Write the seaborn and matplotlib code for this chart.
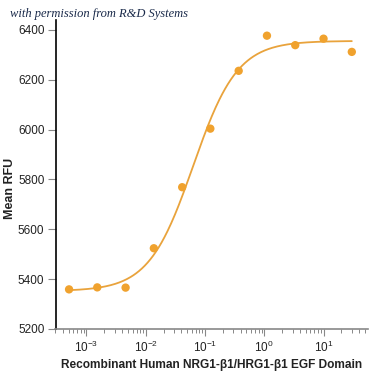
import numpy as np
import pandas as pd
import matplotlib
matplotlib.use("Agg")
import matplotlib.pyplot as plt
import seaborn as sns
from matplotlib.ticker import LogLocator, NullFormatter

# data
concentration = [0.000508, 0.00152, 0.00457, 0.0137, 0.0412, 0.123, 0.370, 1.11, 3.33, 10.0, 30.0]
mean_rfu = [5359, 5367, 5366, 5524, 5769, 6004, 6236, 6377, 6339, 6365, 6312]

# 4-parameter logistic fit parameters
fit_bottom = 5352
fit_top = 6356
fit_ec50 = 0.063
fit_hill = 1.16

y_ticks = [5200, 5400, 5600, 5800, 6000, 6200, 6400]

sns.set_style("white")
plt.rcParams['font.family'] = ['Liberation Sans', 'DejaVu Sans']
plt.rcParams['mathtext.fontset'] = 'custom'
plt.rcParams['mathtext.rm'] = 'Liberation Sans'

fig = plt.figure(figsize=(3.75, 3.75), dpi=100)
ax = fig.add_axes([0.148, 0.1227, 0.833, 0.824])

xs = np.logspace(np.log10(concentration[0]), np.log10(concentration[-1]), 300)
curve = fit_bottom + (fit_top - fit_bottom) / (1 + (fit_ec50 / xs) ** fit_hill)
curve_df = pd.DataFrame({"x": xs, "y": curve})
pts_df = pd.DataFrame({"x": concentration, "y": mean_rfu})

orange = "#F0A22E"
sns.lineplot(data=curve_df, x="x", y="y", ax=ax, color="#E9A33C", linewidth=1.3)
sns.scatterplot(data=pts_df, x="x", y="y", ax=ax, color=orange, s=36, edgecolor="none", zorder=3)

ax.set_xscale("log")
ax.set_xlim(3.0e-4, 56)
ax.set_ylim(5200, 6440)
ax.set_yticks(y_ticks)
ax.xaxis.set_major_locator(LogLocator(base=10, numticks=10))
ax.xaxis.set_minor_locator(LogLocator(base=10, subs=np.arange(2, 10), numticks=20))
ax.xaxis.set_minor_formatter(NullFormatter())

for s in ["top", "right"]:
    ax.spines[s].set_visible(False)
ax.spines["left"].set_color("black")
ax.spines["left"].set_linewidth(1.2)
ax.spines["bottom"].set_color("#888888")
ax.spines["bottom"].set_linewidth(1.2)

ax.tick_params(axis="y", which="major", direction="out", length=6, width=0.8,
               color="#888888", labelsize=8.5, left=True, pad=2)
ax.tick_params(axis="x", which="major", direction="out", length=5, width=0.8,
               color="#888888", labelsize=8.5, bottom=True, pad=3)
ax.tick_params(axis="x", which="minor", direction="out", length=3, width=0.7,
               color="#888888", bottom=True)
for lab in ax.get_xticklabels() + ax.get_yticklabels():
    lab.set_color("#222222")

ax.set_xlabel("Recombinant Human NRG1-β1/HRG1-β1 EGF Domain", fontsize=8.6,
              fontweight="bold", color="#222222", labelpad=3)
ax.set_ylabel("Mean RFU", fontsize=9, fontweight="bold", color="#222222")
ax.yaxis.set_label_coords(-0.125, 0.456)

fig.text(0.027, 0.955, "with permission from R&D Systems", fontsize=9,
         family=["Liberation Serif", "DejaVu Serif"], style="italic", color="#1a2a4a")

fig.savefig("out.png", dpi=100, facecolor="white")
